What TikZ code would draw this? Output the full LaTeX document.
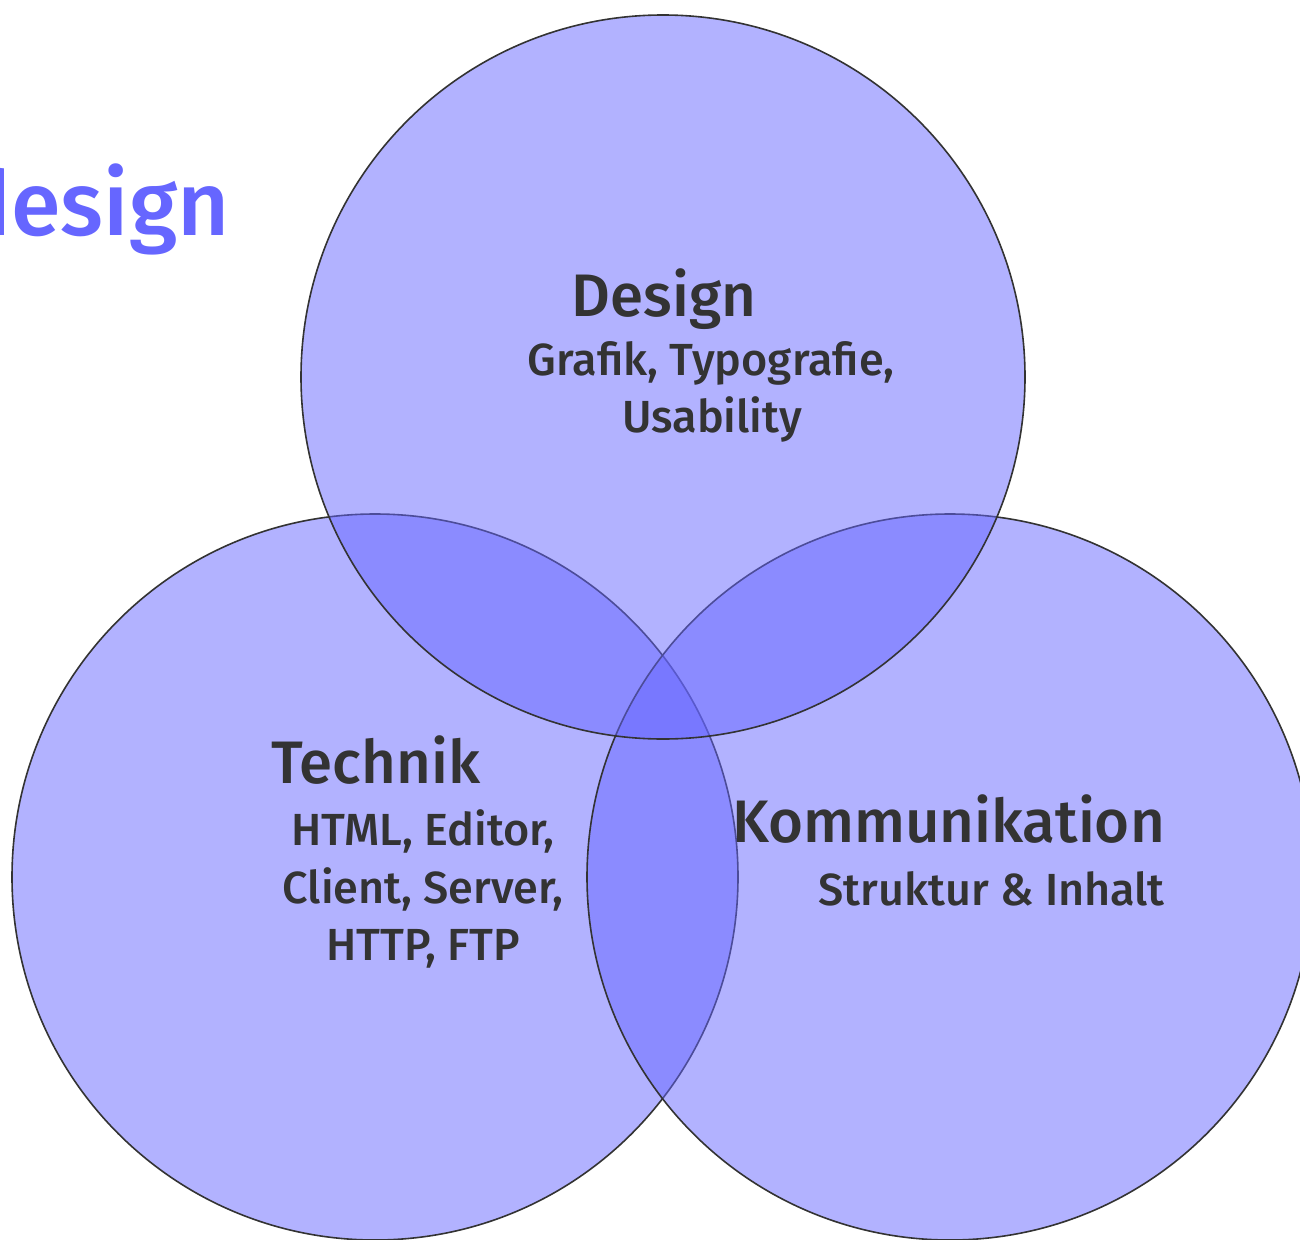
\documentclass[tikz,border=0pt]{standalone}
\usepackage{fontspec}
\setmainfont{Fira Sans}[BoldFont={Fira Sans Medium}]
\definecolor{vblue}{HTML}{6666FF}
\definecolor{vtext}{HTML}{333333}
\begin{document}
\begin{tikzpicture}[x=1pt,y=-1pt,
  venn/.style={fill=vblue,fill opacity=0.5,draw=vtext,line width=1.6pt},
  head/.style={text=vtext,font=\bfseries\fontsize{60}{60}\selectfont,inner sep=0pt},
  sub/.style={text=vtext,font=\bfseries\fontsize{45}{45}\selectfont,inner sep=0pt}]
\useasboundingbox (0,0) rectangle (1300,1239);
\clip (0,0) rectangle (1300,1239);
\fill[white] (0,0) rectangle (1300,1239);
\node[anchor=base east,text=vblue,font=\bfseries\fontsize{90}{90}\selectfont,inner sep=0pt] (title) at (230,235) {design};
\path[venn] (375,877) circle (363pt);
\path[venn] (950,877) circle (363pt);
\path[venn] (663,377) circle (362pt);
\node[head,anchor=base] (d) at (664,316) {Design};
\node[sub,anchor=base] (d1) at (711,375) {Grafik, Typografie,};
\node[sub,anchor=base] (d2) at (712,432) {Usability};
\node[head,anchor=base west] (t) at (271,783) {Technik};
\node[sub,anchor=base] (t1) at (423,845) {HTML, Editor,};
\node[sub,anchor=base] (t2) at (423,903) {Client, Server,};
\node[sub,anchor=base] (t3) at (423,960) {HTTP, FTP};
\node[head,anchor=base east] (k) at (1165,842) {Kommunikation};
\node[sub,anchor=base east] (k1) at (1165,905) {Struktur \& Inhalt};
\end{tikzpicture}
\end{document}
